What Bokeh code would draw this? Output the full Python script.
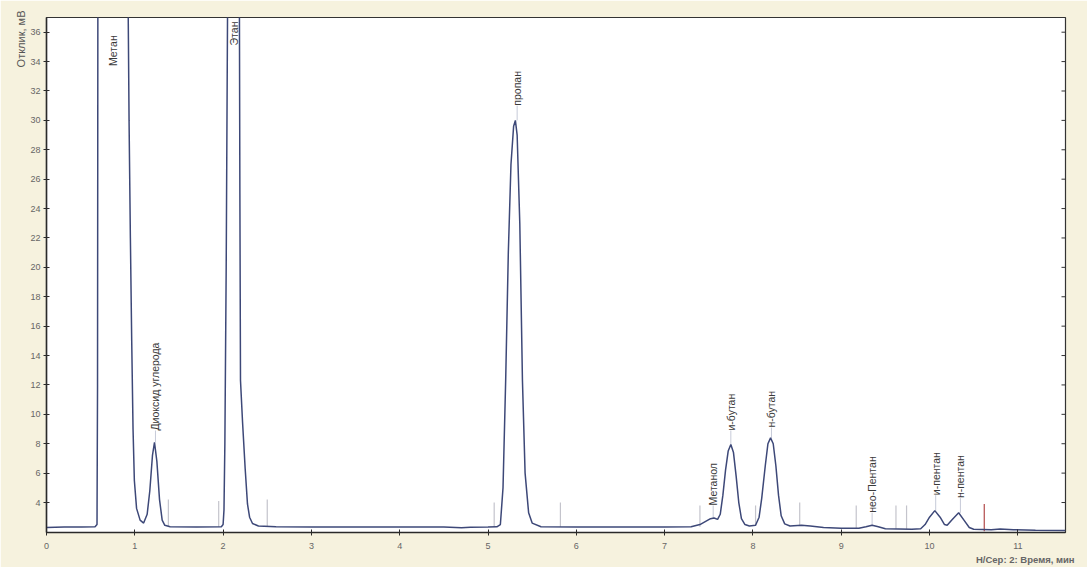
import math
from bokeh.plotting import figure
from bokeh.models import Range1d, FixedTicker, Title
from bokeh.core.properties import value
from bokeh.embed import file_html
from bokeh.resources import INLINE

# ---- chromatogram trace (time, min / response, mV) ----
time_min = [
    0.00, 0.20, 0.40, 0.55, 0.572, 0.578, 0.582, 0.92, 0.925, 0.935, 0.95, 0.965,
    0.98, 0.995, 1.02, 1.06, 1.10, 1.14, 1.17, 1.20, 1.223, 1.25, 1.28, 1.31,
    1.34, 1.40, 1.70, 1.98, 2.00, 2.01, 2.02, 2.035, 2.05, 2.06, 2.18, 2.185,
    2.19, 2.197, 2.22, 2.25, 2.276, 2.30, 2.333, 2.40, 2.60, 3.00, 3.50, 4.00,
    4.50, 4.70, 4.80, 5.00, 5.10, 5.14, 5.17, 5.20, 5.23, 5.26, 5.29, 5.31,
    5.33, 5.36, 5.39, 5.42, 5.46, 5.50, 5.60, 6.00, 6.50, 7.00, 7.30, 7.40,
    7.46, 7.52, 7.56, 7.60, 7.63, 7.66, 7.69, 7.72, 7.75, 7.78, 7.81, 7.84,
    7.87, 7.91, 7.96, 8.03, 8.07, 8.10, 8.14, 8.17, 8.20, 8.23, 8.26, 8.29,
    8.32, 8.36, 8.42, 8.55, 8.65, 8.80, 9.00, 9.20, 9.28, 9.35, 9.42, 9.50,
    9.80, 9.90, 9.95, 10.00, 10.06, 10.12, 10.17, 10.20, 10.25, 10.33, 10.39,
    10.45, 10.50, 10.70, 10.80, 10.95, 11.20, 11.54,
]
response_mv = [
    2.30, 2.33, 2.33, 2.35, 2.5, 12.0, 40.0, 40.0, 37.5, 30.0, 22.0, 15.0,
    9.0, 5.5, 3.6, 2.8, 2.6, 3.2, 4.8, 7.2, 8.1, 6.8, 4.2, 2.8,
    2.45, 2.35, 2.33, 2.35, 2.5, 3.5, 8.0, 20.0, 37.0, 40.0, 40.0, 37.0,
    25.0, 12.3, 9.5, 6.3, 3.9, 3.0, 2.57, 2.4, 2.35, 2.33, 2.33, 2.33,
    2.33, 2.28, 2.32, 2.33, 2.35, 2.5, 5.0, 12.3, 21.0, 27.0, 29.6, 30.0,
    29.0, 23.0, 12.3, 6.0, 3.3, 2.6, 2.35, 2.33, 2.33, 2.33, 2.35, 2.5,
    2.7, 2.9, 2.95, 2.85, 3.2, 4.5, 6.2, 7.5, 7.95, 7.4, 5.8, 4.0,
    2.9, 2.5, 2.4, 2.45, 3.0, 4.3, 6.5, 8.0, 8.4, 8.0, 6.5, 4.5,
    3.1, 2.55, 2.4, 2.45, 2.4, 2.3, 2.25, 2.25, 2.35, 2.45, 2.35, 2.22,
    2.18, 2.22, 2.5, 3.0, 3.45, 3.0, 2.5, 2.45, 2.8, 3.3, 2.8,
    2.3, 2.18, 2.15, 2.2, 2.15, 2.12, 2.1,
]

# ---- peak labels ----
peak_names = ["Метан", "Диоксид углерода", "Этан", "пропан", "Метанол",
              "и-бутан", "н-бутан", "нео-Пентан", "и-пентан", "н-пентан"]
label_x = [0.75, 1.234, 2.12, 5.33, 7.55, 7.75, 8.21, 9.35, 10.07, 10.35]
label_start = [33.7, 8.9, 35.1, 31.0, 3.8, 8.9, 9.1, 3.3, 4.5, 4.3]
peak_top = [33.7, 8.1, 35.1, 30.0, 2.95, 7.95, 8.4, 2.45, 3.45, 3.3]

# ---- integration event markers ----
event_times = [1.38, 1.95, 2.50, 5.07, 5.82, 7.40, 8.03, 8.53, 9.17, 9.62, 9.74, 10.62]
event_bottoms = [2.35, 2.35, 2.35, 2.33, 2.33, 2.35, 2.4, 2.4, 2.25, 2.2, 2.2, 2.05]
event_tops = [4.2, 4.1, 4.2, 4.0, 4.0, 3.8, 3.8, 4.0, 3.8, 3.8, 3.8, 3.9]
event_colors = ["#c4c4cc"] * 11 + ["#b24a4a"]

X_MIN, X_MAX = 0.0, 11.54
Y_MIN, Y_MAX = 1.96, 37.0
x_ticks = list(range(0, 12))
y_ticks = list(range(4, 37, 2))

FONT = "Liberation Sans"

p = figure(width=1087, height=567, output_backend="svg", toolbar_location=None,
           x_range=Range1d(X_MIN, X_MAX), y_range=Range1d(Y_MIN, Y_MAX),
           min_border_left=46, min_border_right=22, min_border_top=17,
           min_border_bottom=35,
           background_fill_color="#ffffff", border_fill_color="#f6f2de")
p.grid.visible = False
p.outline_line_color = "#333333"
p.outline_line_width = 1.2

for ax, ticks in ((p.xaxis, x_ticks), (p.yaxis, y_ticks)):
    ax.ticker = FixedTicker(ticks=ticks)
    ax.major_tick_in = 3
    ax.major_tick_out = 3
    ax.minor_tick_line_color = None
    ax.axis_line_color = "#2a2a2a"
    ax.axis_line_width = 1.5
    ax.major_tick_line_color = "#2a2a2a"
    ax.major_label_text_font = FONT
    ax.major_label_text_font_size = "9px"
    ax.major_label_text_color = "#666666"
p.xaxis.major_label_standoff = 7
p.yaxis.major_label_standoff = 3

p.add_layout(Title(text="Отклик, мВ", align="right", text_font=FONT, text_font_size="11px",
                   text_font_style="normal", text_color="#555555", standoff=2, offset=-7), "left")
p.add_layout(Title(text="Н/Сер: 2:    Время, мин", align="right", text_font=FONT,
                   text_font_size="9.5px", text_font_style="bold", text_color="#666666",
                   standoff=0, offset=-17), "below")

# inward ticks along the right border
p.scatter(x=[X_MAX] * len(y_ticks), y=y_ticks, marker="dash", size=8,
          line_color="#333333", line_width=1)
# leader lines from peak top to label
p.segment(x0=label_x, y0=peak_top, x1=label_x, y1=label_start,
          line_color="#c6cad8", line_width=1)
# event markers
p.segment(x0=event_times, y0=event_bottoms, x1=event_times, y1=event_tops,
          line_color=event_colors, line_width=1.2)
# trace
p.line(time_min, response_mv, line_color="#3d4878", line_width=1.5)
# labels
p.text(x=label_x, y=label_start, text=peak_names, angle=math.pi / 2,
       text_align="left", text_baseline="middle", text_font=value(FONT),
       text_font_size="10.5px", text_color="#3a3a3a")

open("out.html", "w").write(file_html(p, INLINE))
